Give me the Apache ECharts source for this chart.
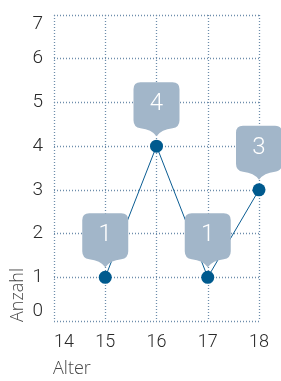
<!DOCTYPE html>
<html>
<head>
<meta charset="utf-8">
<script src="https://cdn.jsdelivr.net/npm/echarts@6/dist/echarts.min.js"></script>
<style>
  html, body { margin: 0; padding: 0; background: #fff; }
  #chart { width: 281px; height: 381px; }
</style>
</head>
<body>
<div id="chart"></div>
<script>
// data
var ages = [15, 16, 17, 18];
var counts = [1, 4, 1, 3];
var xTicks = [14, 15, 16, 17, 18];
var yTicks = [0, 1, 2, 3, 4, 5, 6, 7];
var xName = "Alter";
var yName = "Anzahl";

var numFont = "Roboto, sans-serif";
var gridColor = "#6d8dab";
var bubblePath = "path://M7,0 L39,0 Q46,0 46,7 L46,38 Q46,45 39,46 Q28,47 23,54 Q18,47 7,46 Q0,45 0,38 L0,7 Q0,0 7,0 Z";

var points = ages.map(function (a, i) { return [a, counts[i]]; });

var chart = echarts.init(document.getElementById("chart"));
var option = {
  backgroundColor: "#fff",
  animation: false,
  grid: { left: 54, right: 22, top: 15, bottom: 60 },
  xAxis: {
    type: "value",
    min: xTicks[0],
    max: xTicks[xTicks.length - 1],
    interval: 1,
    axisLine: { show: false },
    axisTick: { show: false },
    splitLine: { show: true, lineStyle: { color: gridColor, type: [1, 2], width: 1.3 } },
    axisLabel: {
      color: "#2a2a2a", fontSize: 18, fontWeight: 300, fontFamily: numFont, margin: 12,
      alignMinLabel: "left"
    }
  },
  yAxis: {
    type: "value",
    min: yTicks[0],
    max: yTicks[yTicks.length - 1],
    interval: 1,
    axisLine: { show: false },
    axisTick: { show: false },
    splitLine: { show: true, lineStyle: { color: gridColor, type: [1, 2], width: 1.3 } },
    axisLabel: {
      color: "#2a2a2a", fontSize: 19, fontWeight: 300, fontFamily: numFont, margin: 11,
      verticalAlignMinLabel: "bottom", verticalAlignMaxLabel: "top"
    }
  },
  graphic: [
    {
      type: "text", left: 53, top: 360,
      style: { text: xName, fill: "#444", font: "300 18px 'Open Sans', sans-serif" }
    },
    {
      type: "text", x: 9, y: 322, rotation: Math.PI / 2,
      style: { text: yName, fill: "#444", font: "300 18px 'Open Sans', sans-serif" }
    }
  ],
  series: [
    {
      type: "line",
      data: points,
      z: 2,
      symbol: "circle",
      symbolSize: 13,
      lineStyle: { color: "#0b5d93", width: 1 },
      itemStyle: { color: "#005a8e" },
      label: { show: false }
    },
    {
      type: "scatter",
      data: points,
      z: 4,
      symbol: bubblePath,
      symbolSize: [46, 54],
      symbolOffset: [0, -37],
      itemStyle: { color: "#a2b6c9", opacity: 1 },
      label: {
        show: true,
        position: "inside",
        offset: [0, -5],
        color: "#fff",
        fontSize: 24,
        fontWeight: 300,
        fontFamily: numFont,
        formatter: function (p) { return p.value[1]; }
      }
    }
  ]
};
chart.setOption(option);
</script>
</body>
</html>
